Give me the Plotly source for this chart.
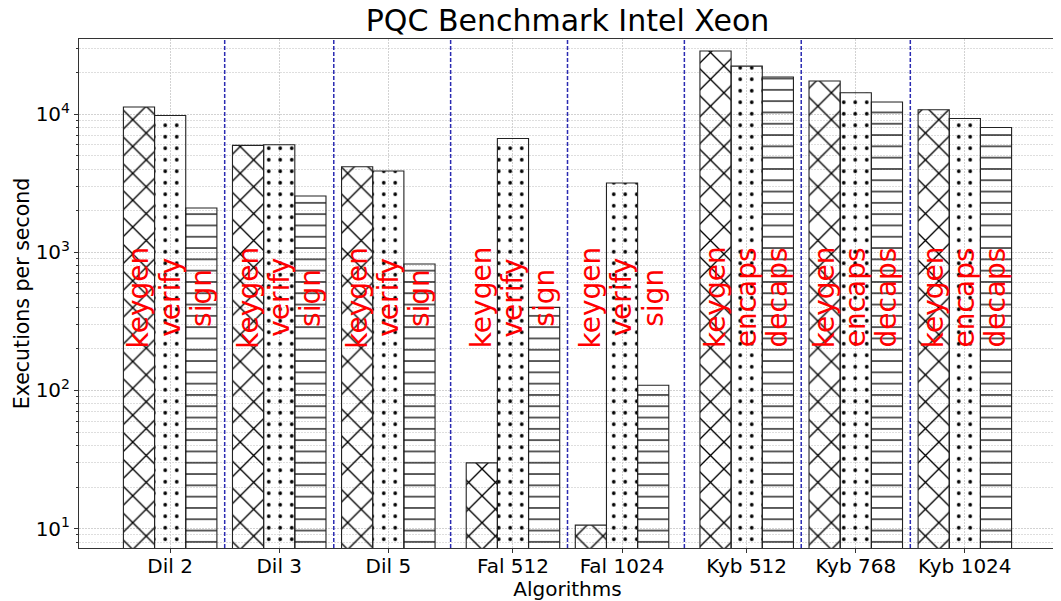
import math
import plotly.graph_objects as go

# ---------------- data ----------------
algorithms = ["Dil 2", "Dil 3", "Dil 5", "Fal 512", "Fal 1024", "Kyb 512", "Kyb 768", "Kyb 1024"]
sig_ops = ["keygen", "verify", "sign"]
kem_ops = ["keygen", "encaps", "decaps"]
keygen_rate = [11240, 5930, 4160, 29.9, 10.6, 28580, 17330, 10740]
second_rate = [9770, 5995, 3870, 6660, 3170, 22220, 14260, 9290]   # verify / encaps
third_rate = [2089, 2553, 822, 399, 109, 18520, 12210, 8000]        # sign / decaps
y_tick_vals = [10, 100, 1000, 10000]
y_tick_text = ["10<sup>1</sup>", "10<sup>2</sup>", "10<sup>3</sup>", "10<sup>4</sup>"]

# ---------------- layout helpers ----------------
FONT = "DejaVu Sans"
BAR_W = 1.0
PITCH_SAME = 3.5
PITCH_NEW = 4.0
PAGE_OFFSET = 8          # default body margin of the html page
FIG_W = 1061 - PAGE_OFFSET
FIG_H = 601 - PAGE_OFFSET

families = [a.split()[0] for a in algorithms]
group_pos = []
for i, fam in enumerate(families):
    if i == 0:
        group_pos.append(0.0)
    else:
        group_pos.append(group_pos[-1] + (PITCH_SAME if fam == families[i - 1] else PITCH_NEW))

span_lo = group_pos[0] - 1.5 * BAR_W
span_hi = group_pos[-1] + 1.5 * BAR_W
margin = 0.05 * (span_hi - span_lo)
x_range = [span_lo - margin, span_hi + margin]

op_names = [kem_ops if fam == "Kyb" else sig_ops for fam in families]
series = [keygen_rate, second_rate, third_rate]
patterns = [
    dict(shape="x", size=19, solidity=0.14),
    dict(shape=".", size=11.5, solidity=0.08),
    dict(shape="-", size=11.3, solidity=0.11),
]

fig = go.Figure()
for k, (vals, pat) in enumerate(zip(series, patterns)):
    xs = [p + (k - 1) * BAR_W for p in group_pos]
    fig.add_trace(go.Bar(
        x=xs, y=vals, width=BAR_W,
        marker=dict(
            color="rgba(0,0,0,0)",
            line=dict(color="#222222", width=1.1),
            pattern=dict(fillmode="overlay", fgcolor="#000000", fgopacity=1,
                         bgcolor="rgba(0,0,0,0)", **pat),
        ),
        showlegend=False,
    ))

# red operation labels
label_y = math.log10(470)
annotations = []
for g, p in enumerate(group_pos):
    for k in range(3):
        annotations.append(dict(
            x=p + (k - 1) * BAR_W, y=label_y, xref="x", yref="y",
            text=op_names[g][k], textangle=-90, showarrow=False,
            font=dict(family=FONT, size=28, color="#ff0000"),
            xanchor="center", yanchor="middle",
        ))

# separators between groups
shapes = []
for i in range(len(group_pos) - 1):
    left_end = group_pos[i] + 1.5 * BAR_W
    right_start = group_pos[i + 1] - 1.5 * BAR_W
    xs = (left_end + right_start) / 2
    shapes.append(dict(
        type="line", xref="x", yref="paper", x0=xs, x1=xs, y0=0, y1=1,
        line=dict(color="rgba(20,20,170,0.9)", width=1.5, dash="4px,2px"),
        layer="above",
    ))

minor_vals = []
for dec in [1, 10, 100, 1000, 10000]:
    for m in range(2, 10):
        minor_vals.append(m * dec)

grid_col = "#d2d2d2"
fig.update_layout(
    width=FIG_W, height=FIG_H,
    margin=dict(l=79 - PAGE_OFFSET, r=5, t=39 - PAGE_OFFSET, b=53, autoexpand=False),
    paper_bgcolor="white", plot_bgcolor="white",
    barmode="overlay",
    font=dict(family=FONT, color="black"),
    title=dict(text="PQC Benchmark Intel Xeon", x=0.5, xref="paper", xanchor="center",
               y=1 - 12.5 / FIG_H, yref="container", yanchor="middle", automargin=False,
               font=dict(family=FONT, size=30, color="black")),
    annotations=annotations,
    shapes=shapes,
    xaxis=dict(
        range=x_range, tickmode="array", tickvals=group_pos, ticktext=algorithms,
        ticks="outside", ticklen=4, tickcolor="#333", tickfont=dict(size=20),
        ticklabelstandoff=-4,
        showline=True, mirror=True, linecolor="#333", linewidth=1,
        showgrid=True, gridcolor=grid_col, gridwidth=0.8, griddash="2px,1px",
        zeroline=False, automargin=False,
        title=dict(text="Algorithms", font=dict(size=20), standoff=2),
    ),
    yaxis=dict(
        type="log", range=[0.860, 4.543],
        tickmode="array", tickvals=y_tick_vals, ticktext=y_tick_text,
        ticks="outside", ticklen=4, tickcolor="#333", tickfont=dict(size=20),
        showline=True, mirror=True, linecolor="#333", linewidth=1,
        showgrid=True, gridcolor=grid_col, gridwidth=0.8, griddash="2px,1px",
        minor=dict(tickmode="array", tickvals=minor_vals, ticks="outside", ticklen=2,
                   tickcolor="#333", showgrid=True, gridcolor="#dedede", gridwidth=0.6,
                   griddash="2px,1px"),
        zeroline=False, automargin=False,
        title=dict(text="Executions per second", font=dict(size=20.5), standoff=0),
    ),
)

fig.write_html("out.html")
